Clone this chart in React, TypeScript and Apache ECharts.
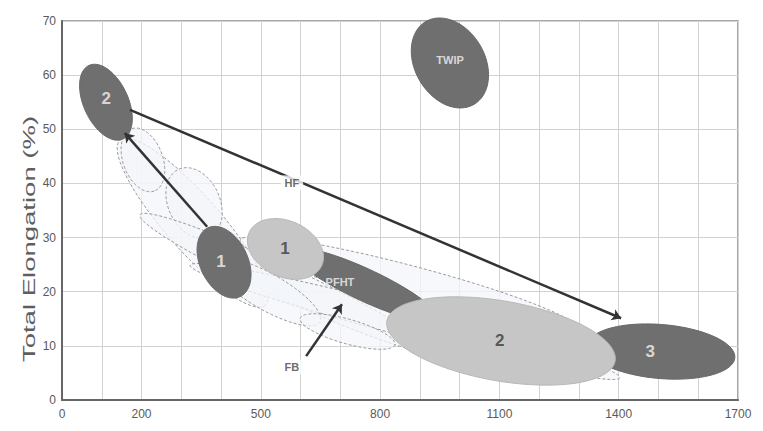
import React, { useEffect, useRef } from "react";
import * as echarts from "echarts";

// X axis: tensile strength (MPa), Y axis: total elongation (%)
const xTickLabels = [0, 200, 500, 800, 1100, 1400, 1700];

// Ellipses: both ends of major axis in data units + minor/major ratio
const ellipseNames = ["", "", "", "", "", "", "", "", "3", "PFHT", "1", "2", "1", "2", "TWIP"];
const ellipseKinds = ["o", "o", "o", "o", "o", "o", "o", "o", "dark", "dark", "light", "light", "dark", "dark", "dark"];
const majorStart = [
  [146, 48.0], [175, 50.1], [293, 42.6], [196, 34.2], [322, 24.9], [448, 29.5], [385, 25.5], [599, 15.1],
  [1321, 10.1], [580, 27.5], [471, 31.0], [817, 14.6], [367, 31.8], [68, 61.8], [915, 69.9],
];
const majorEnd = [
  [511, 17.5], [232, 38.6], [371, 30.2], [925, 9.2], [1403, 4.1], [1300, 13.0], [649, 14.4], [837, 10.2],
  [1692, 7.8], [944, 15.0], [653, 24.8], [1391, 7.2], [448, 19.1], [153, 48.2], [1036, 54.6],
];
const minorRatio = [0.25, 0.6, 0.7, 0.1, 0.065, 0.11, 0.3, 0.25, 0.365, 0.2, 0.7, 0.345, 0.63, 0.55, 0.73];
const labelAt = [
  null, null, null, null, null, null, null, null,
  [1479, 8.9], [699, 21.8], [561, 28.0], [1101, 10.9], [400, 25.6], [111, 55.6], [976, 62.8],
];

// Arrows
const arrowStart = [[365, 32.0], [171, 53.6], [614, 8.1]];
const arrowEnd = [[158, 49.3], [1406, 15.1], [704, 17.7]];
const freeLabels = ["HF", "FB"];
const freeLabelAt = [[578, 40.1], [578, 6.1]];

const kindStyle: Record<string, any> = {
  o: { fill: "rgba(243,246,250,0.75)", stroke: "#9a9a9a", lineWidth: 1, lineDash: [3, 2] },
  dark: { fill: "#6f6f6f", stroke: "#686868", lineWidth: 1 },
  light: { fill: "#c6c6c6", stroke: "#b8b8b8", lineWidth: 1 },
};

export default function App() {
  const ref = useRef<HTMLDivElement>(null);
  useEffect(() => {
    const chart = echarts.init(ref.current!, null, { renderer: "svg" });
    const ellipseData = ellipseNames.map((_, i) => [
      majorStart[i][0], majorStart[i][1], majorEnd[i][0], majorEnd[i][1], minorRatio[i],
    ]);
    const labelData: any[] = [];
    ellipseNames.forEach((n, i) => {
      const p = labelAt[i];
      if (!p || !n) return;
      const dark = ellipseKinds[i] === "dark";
      const small = n.length > 1;
      labelData.push({
        value: p,
        label: {
          formatter: n,
          color: dark ? "#f4f4f4" : "#3a3a3a",
          fontSize: small ? 11 : 17,
          fontWeight: "bold",
        },
      });
    });
    chart.setOption({
      animation: false,
      backgroundColor: "#ffffff",
      grid: {
        left: 62, right: 25, top: 21, bottom: 31,
        show: true, borderColor: "#8a8a8a", borderWidth: 1.5,
      },
      xAxis: {
        type: "value", min: 0, max: 1700, interval: 100,
        axisLine: { show: true, onZero: false, lineStyle: { color: "#666", width: 2 } },
        axisTick: { show: false },
        splitLine: { show: true, lineStyle: { color: "#d2d2d2", width: 1 } },
        axisLabel: {
          color: "#5a5a5a", fontSize: 12, fontFamily: "Liberation Sans, Arial", margin: 8,
          formatter: (v: number) => (xTickLabels.indexOf(v) >= 0 ? String(v) : ""),
          showMaxLabel: true, showMinLabel: true,
        },
      },
      yAxis: {
        type: "value", min: 0, max: 70, interval: 10,
        axisLine: { show: true, onZero: false, lineStyle: { color: "#666", width: 2 } },
        axisTick: { show: false },
        splitLine: { show: true, lineStyle: { color: "#d2d2d2", width: 1 } },
        axisLabel: { color: "#5a5a5a", fontSize: 12, fontFamily: "Liberation Sans, Arial", margin: 6 },
      },
      graphic: [
        {
          type: "text", x: 30, y: 239, rotation: Math.PI / 2, scaleX: 1.72,
          style: {
            text: "Total Elongation (%)", fontSize: 16, fontFamily: "Liberation Sans, Arial",
            fill: "#5e5e5e", align: "center", verticalAlign: "middle",
          },
        },
      ],
      series: [
        {
          type: "custom",
          coordinateSystem: "cartesian2d",
          data: ellipseData,
          clip: false,
          z: 2,
          renderItem: (params: any, api: any) => {
            const i = params.dataIndex;
            const p1 = api.coord([api.value(0), api.value(1)]);
            const p2 = api.coord([api.value(2), api.value(3)]);
            const ratio = api.value(4);
            const cx = (p1[0] + p2[0]) / 2;
            const cy = (p1[1] + p2[1]) / 2;
            const dx = (p2[0] - p1[0]) / 2;
            const dy = (p2[1] - p1[1]) / 2;
            const a = Math.hypot(dx, dy);
            const b = a * ratio;
            const ang = Math.atan2(dy, dx);
            const ca = Math.cos(ang), sa = Math.sin(ang);
            const pts: number[][] = [];
            for (let k = 0; k < 90; k++) {
              const t = (k / 90) * Math.PI * 2;
              const ex = a * Math.cos(t), ey = b * Math.sin(t);
              pts.push([cx + ex * ca - ey * sa, cy + ex * sa + ey * ca]);
            }
            return {
              type: "polygon",
              shape: { points: pts },
              style: { ...kindStyle[ellipseKinds[i]] },
            };
          },
        },
        {
          type: "lines",
          coordinateSystem: "cartesian2d",
          z: 5,
          symbol: ["none", "arrow"],
          symbolSize: 9,
          lineStyle: { color: "#333", width: 2.5, opacity: 1 },
          data: arrowStart.map((s, i) => ({ coords: [s, arrowEnd[i]] })),
        },
        {
          type: "scatter",
          z: 6,
          symbolSize: 0,
          data: labelData,
          label: { show: true, position: "inside", fontFamily: "Liberation Sans, Arial" },
        },
        {
          type: "scatter",
          z: 7,
          symbolSize: 0,
          data: freeLabelAt.map((p, i) => ({ value: p, name: freeLabels[i] })),
          label: {
            show: true, position: "inside", formatter: "{b}", color: "#444",
            fontSize: 11, fontWeight: "bold", fontFamily: "Liberation Sans, Arial",
            backgroundColor: "#fff", padding: [2, 4],
          },
        },
      ],
    });
    return () => chart.dispose();
  }, []);
  return (
    <div
      ref={ref}
      style={{ position: "fixed", left: 0, top: 0, width: 763, height: 431 }}
    />
  );
}
